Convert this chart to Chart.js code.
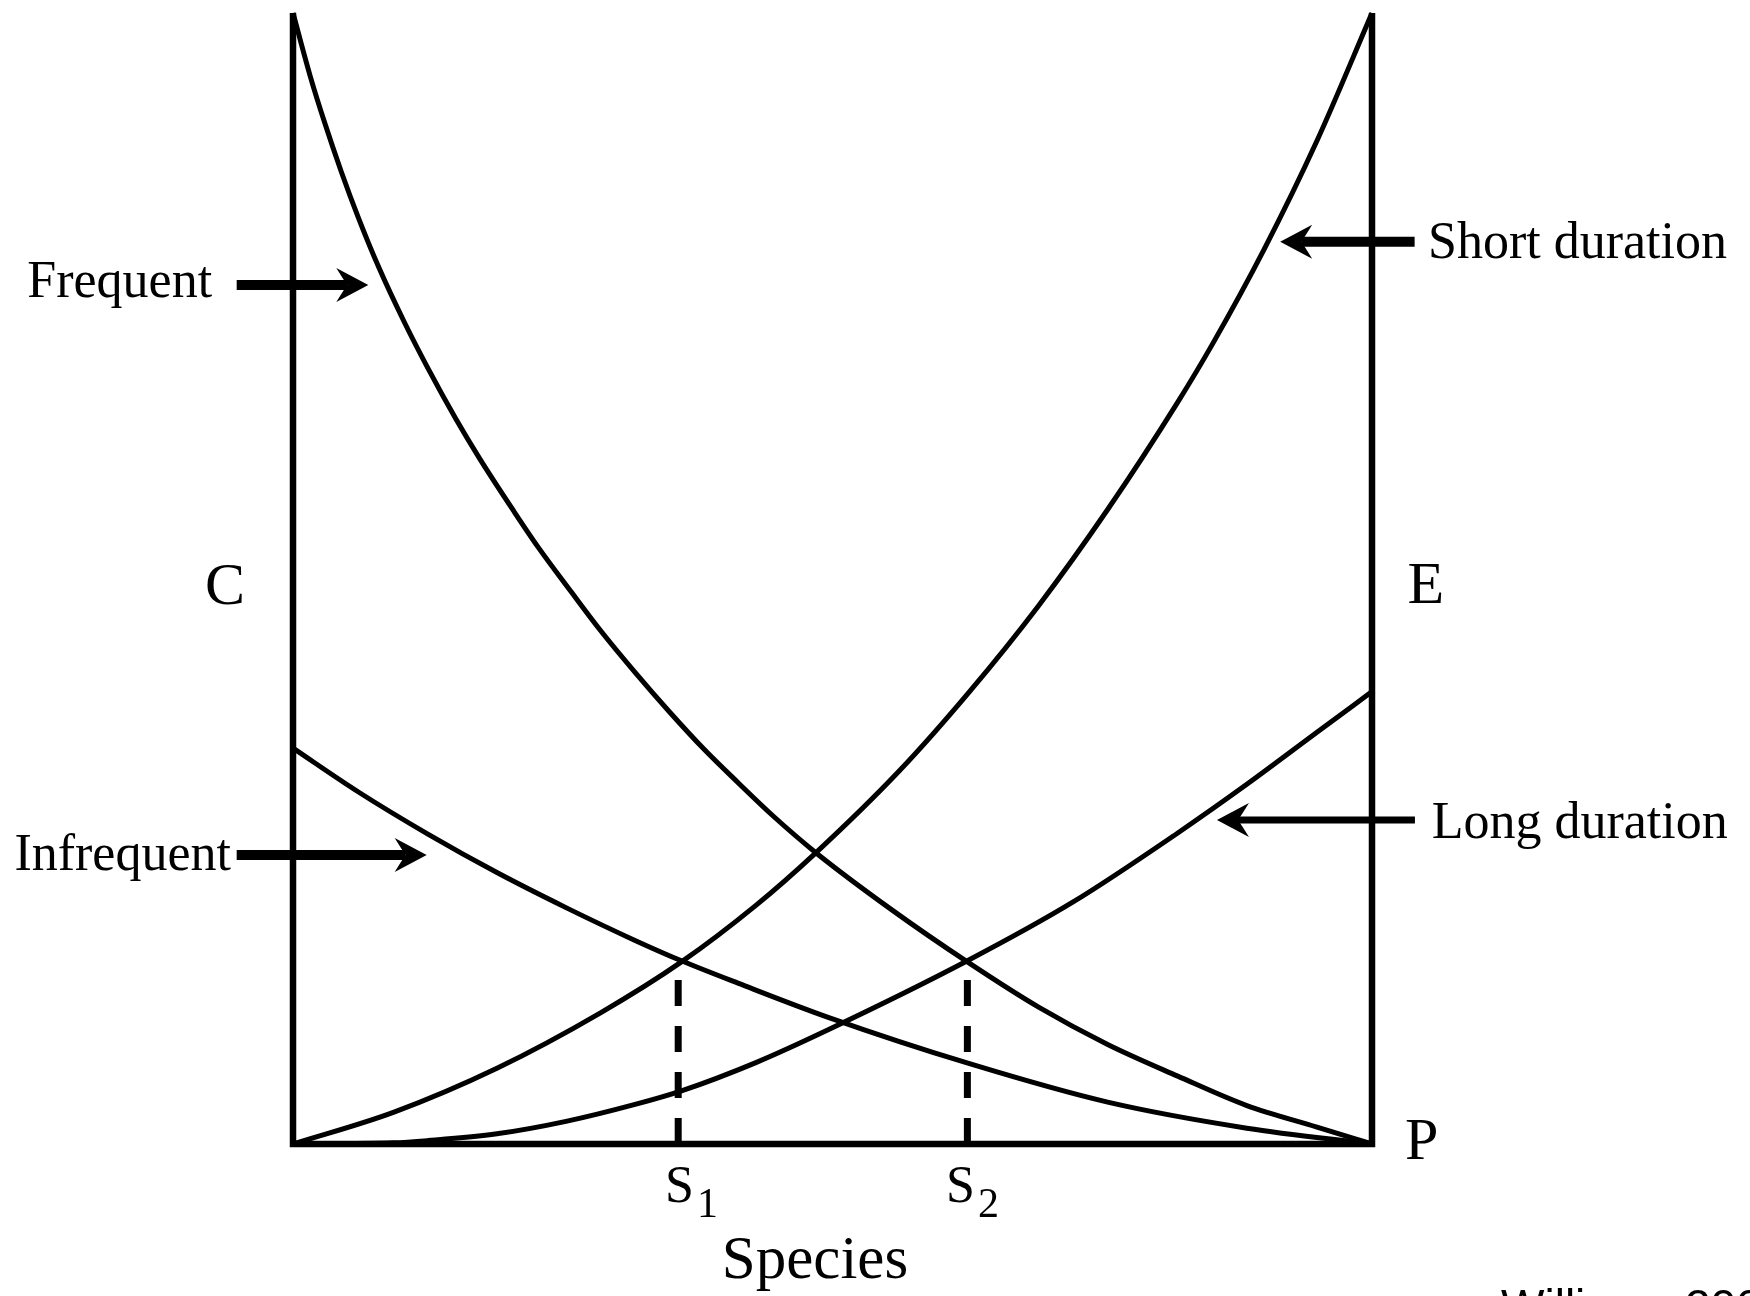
<!DOCTYPE html>
<html>
<head>
<meta charset="utf-8">
<script src="https://cdn.jsdelivr.net/npm/chart.js@4.4.1/dist/chart.umd.min.js"></script>
<style>
html,body{margin:0;padding:0;background:#fff;overflow:hidden}
#wrap{width:1750px;height:1296px;position:relative}
</style>
</head>
<body>
<div id="wrap"><canvas id="c" width="1750" height="1296"></canvas></div>
<script>
// ---- data (x: species axis 0-100, y: 0-100) ----
const frequentX = [0, 1.6, 2.9, 4.5, 6.1, 8.0, 10.3, 12.5, 15.1, 17.3, 20.5, 22.7, 25.8, 28.5, 31.7, 34.9, 38.1, 41.3, 44.5, 48.4, 55.5, 62.5, 69.1, 75.5, 82.0, 88.4, 94.9, 100];
const frequentY = [100, 94.4, 90.4, 85.9, 81.8, 77.4, 72.7, 68.6, 64.1, 60.6, 55.9, 52.8, 48.8, 45.4, 41.7, 38.2, 34.9, 31.9, 29.0, 25.8, 20.7, 16.1, 12.1, 8.8, 6.0, 3.4, 1.5, 0];

const infrequentX = [0, 6.1, 12.5, 18.9, 25.3, 31.7, 36.0, 41.3, 49.6, 62.7, 75.5, 88.4, 100];
const infrequentY = [35.0, 31.1, 27.4, 24.0, 20.9, 18.0, 16.2, 14.2, 11.2, 7.1, 3.7, 1.4, 0];

const shortX = [0, 9.3, 18.9, 28.5, 36.0, 42.9, 48.4, 56.2, 62.7, 69.1, 75.5, 82.0, 85.2, 90.0, 94.9, 100];
const shortY = [0, 2.8, 6.7, 11.6, 16.1, 21.1, 25.7, 33.0, 40.0, 47.6, 56.1, 65.6, 70.7, 79.1, 88.7, 100];

const longX = [0, 9.3, 12.5, 18.9, 25.3, 31.7, 36.0, 42.9, 49.6, 62.5, 72.3, 82.0, 88.4, 94.9, 100];
const longY = [0, 0.1, 0.3, 0.9, 2.0, 3.5, 4.7, 7.2, 10.1, 16.2, 21.4, 27.5, 31.8, 36.4, 40.0];

const thresholdX = [35.7, 62.5];        // S1, S2
const thresholdTopY = [14.5, 14.5];     // where the dashed drop lines begin
const thresholdLabels = ['1', '2'];

const curveLabels = ['Frequent', 'Infrequent', 'Short duration', 'Long duration'];
const cornerLabels = ['C', 'E', 'P'];
const xAxisTitle = 'Species';
const sourceNote = 'Williams 2003';

const pts = (xs, ys) => xs.map((x, i) => ({x, y: ys[i]}));

const curveStyle = {
  borderColor: '#000', borderWidth: 5, pointRadius: 0, showLine: true,
  cubicInterpolationMode: 'monotone', clip: false, fill: false
};

const datasets = [
  Object.assign({label: curveLabels[0], data: pts(frequentX, frequentY)}, curveStyle),
  Object.assign({label: curveLabels[1], data: pts(infrequentX, infrequentY)}, curveStyle),
  Object.assign({label: curveLabels[2], data: pts(shortX, shortY)}, curveStyle),
  Object.assign({label: curveLabels[3], data: pts(longX, longY)}, curveStyle)
];
thresholdX.forEach((sx, i) => {
  datasets.push({
    label: 'S' + thresholdLabels[i],
    data: [{x: sx, y: 0}, {x: sx, y: thresholdTopY[i]}],
    borderColor: '#000', borderWidth: 7, borderDash: [26, 20], pointRadius: 0,
    showLine: true, tension: 0, clip: false, borderCapStyle: 'butt'
  });
});

const SERIF = "'Liberation Serif', 'Times New Roman', serif";

const diagramPlugin = {
  id: 'diagram',
  beforeDatasetsDraw(chart) {
    const {ctx, scales: {x, y}} = chart;
    ctx.save();
    ctx.strokeStyle = '#000';
    ctx.lineWidth = 6.5;
    ctx.lineJoin = 'miter';
    ctx.lineCap = 'butt';
    ctx.beginPath();
    ctx.moveTo(x.getPixelForValue(0), y.getPixelForValue(100));
    ctx.lineTo(x.getPixelForValue(0), y.getPixelForValue(0));
    ctx.lineTo(x.getPixelForValue(100), y.getPixelForValue(0));
    ctx.lineTo(x.getPixelForValue(100), y.getPixelForValue(100));
    ctx.stroke();
    ctx.restore();
  },
  afterDatasetsDraw(chart) {
    const {ctx, scales: {x, y}} = chart;
    const px = v => x.getPixelForValue(v);
    const py = v => y.getPixelForValue(v);
    ctx.save();
    ctx.fillStyle = '#000';
    ctx.strokeStyle = '#000';
    ctx.lineCap = 'butt';

    function arrow(xFrom, xTo, yv, w) {
      const x0 = px(xFrom), x1 = px(xTo), yy = py(yv);
      const d = Math.sign(x1 - x0);
      const L = 32, H = 17, N = 21;
      ctx.lineWidth = w;
      ctx.beginPath();
      ctx.moveTo(x0, yy);
      ctx.lineTo(x1 - d * N, yy);
      ctx.stroke();
      ctx.beginPath();
      ctx.moveTo(x1, yy);
      ctx.lineTo(x1 - d * L, yy - H);
      ctx.quadraticCurveTo(x1 - d * (N + 3), yy - 4, x1 - d * N, yy);
      ctx.quadraticCurveTo(x1 - d * (N + 3), yy + 4, x1 - d * L, yy + H);
      ctx.closePath();
      ctx.fill();
    }
    function text(str, xv, yv, size, align, family) {
      ctx.font = size + 'px ' + (family || SERIF);
      ctx.textAlign = align;
      ctx.textBaseline = 'alphabetic';
      ctx.fillText(str, px(xv), py(yv));
    }

    // arrows pointing at the curves
    arrow(-5.22, 6.98, 75.95, 10);
    arrow(-5.22, 12.39, 25.55, 10);
    arrow(103.95, 91.49, 79.78, 10);
    arrow(103.98, 85.63, 28.65, 7);

    // curve labels
    text(curveLabels[0], -7.5, 74.9, 52, 'right');
    text(curveLabels[1], -5.75, 24.23, 52, 'right');
    text(curveLabels[2], 105.19, 78.34, 52, 'left');
    text(curveLabels[3], 105.53, 27.06, 52, 'left');

    // corner / axis letters
    text(cornerLabels[0], -6.3, 47.75, 60, 'center');
    text(cornerLabels[1], 104.99, 47.83, 60, 'center');
    text(cornerLabels[2], 104.6, -1.33, 60, 'center');

    // S1, S2 labels
    const sCenters = [35.82, 61.86];
    sCenters.forEach((cx, i) => {
      ctx.font = '52px ' + SERIF;
      const sw = ctx.measureText('S').width;
      text('S', cx, -5.13, 52, 'center');
      ctx.font = '42px ' + SERIF;
      ctx.textAlign = 'left';
      ctx.fillText(thresholdLabels[i], px(cx) + sw / 2 + 3, py(-6.45));
    });

    // axis title
    text(xAxisTitle, 48.38, -11.85, 61, 'center');

    // source note (cut off by the bottom edge)
    text(sourceNote, 111.96, -15.74, 46, 'left', "'Liberation Sans', Arial, sans-serif");
    ctx.restore();
  }
};

new Chart(document.getElementById('c'), {
  type: 'scatter',
  data: {datasets},
  options: {
    responsive: false,
    animation: false,
    events: [],
    layout: {padding: {left: 293, right: 378, top: 13, bottom: 152}},
    scales: {
      x: {type: 'linear', min: 0, max: 100, display: false},
      y: {type: 'linear', min: 0, max: 100, display: false}
    },
    plugins: {legend: {display: false}, tooltip: {enabled: false}}
  },
  plugins: [diagramPlugin]
});
</script>
</body>
</html>
